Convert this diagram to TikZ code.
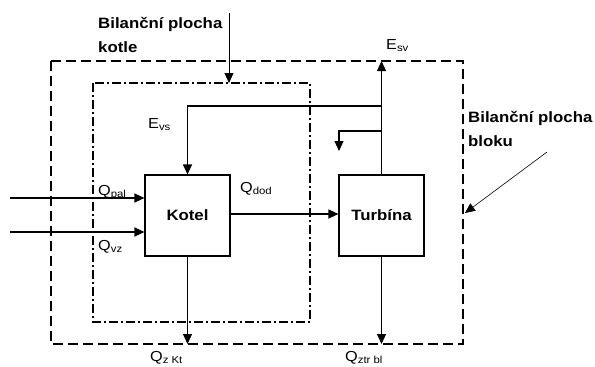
\documentclass[tikz,border=0pt]{standalone}
\usepackage{fontspec}
\setmainfont[FakeStretch=1.12]{Liberation Sans}
\usetikzlibrary{arrows.meta,positioning,calc}
\tikzset{
  blockBox/.style={draw, line width=1.1pt, minimum width=85pt, minimum height=81pt, font=\fontsize{15}{17}\selectfont\bfseries},
  flowArrow/.style={-{Triangle[length=10pt,width=9pt]}, line width=1.1pt},
  boundOuter/.style={line width=1.8pt, dash pattern=on 10pt off 5pt},
  boundInner/.style={line width=1.8pt, dash pattern=on 9pt off 3pt on 2pt off 3pt},
  qLabel/.style={font=\fontsize{14.5}{16}\selectfont, inner sep=0pt, anchor=base west},
  noteLabel/.style={font=\fontsize{15}{24}\selectfont\bfseries, inner sep=0pt, align=left, anchor=north west}
}
\begin{document}
\begin{tikzpicture}[x=1pt, y=-1pt]
  \useasboundingbox (0,0) rectangle (595,367);
  % boundaries
  \draw[boundOuter] (51,61) rectangle (463,344);
  \draw[boundInner] (93,83) rectangle (310,322);
  % blocks
  \node[blockBox] (kotel) at (187.5,215.5) {Kotel};
  \node[blockBox] (turb) at (381.5,215.5) {Turbína};
  % free ends
  \coordinate (palIn) at (10,198);
  \coordinate (vzIn) at (10,232);
  \coordinate (kotelOut) at (kotel.south |- 0,344);
  \coordinate (turbOut) at (turb.south |- 0,344);
  \coordinate (svOut) at (turb.north |- 0,61);
  \coordinate (vsTap) at (turb.north |- 0,106);
  \coordinate (vsTurn) at (kotel.north |- 0,106);
  \coordinate (brTap) at (turb.north |- 0,131);
  \coordinate (brTurn) at (339,131);
  \coordinate (brEnd) at (339,151);
  \coordinate (kotleTop) at (229,13);
  \coordinate (kotleEnd) at (229,83);
  \coordinate (blokuTop) at (547,152);
  \coordinate (blokuEnd) at (465,213);
  % flows
  \draw[flowArrow] (palIn) -- (kotel.west |- palIn);
  \draw[flowArrow] (vzIn) -- (kotel.west |- vzIn);
  \draw[flowArrow] (kotel.east |- 0,214) -- (turb.west |- 0,214);
  \draw[flowArrow] (kotel.south) -- (kotelOut);
  \draw[flowArrow] (turb.south) -- (turbOut);
  \draw[flowArrow] (turb.north) -- (svOut);
  \draw[flowArrow] (vsTap) -- (vsTurn) -- (kotel.north);
  \draw[flowArrow] (brTap) -- (brTurn) -- (brEnd);
  \draw[flowArrow, line width=0.8pt] (kotleTop) -- (kotleEnd);
  \draw[flowArrow, line width=0.6pt] (blokuTop) -- (blokuEnd);
  % labels
  \node[qLabel] (qpal) at (98,195) {Q\textsubscript{pal}};
  \node[qLabel] (qvz) at (98,250) {Q\textsubscript{vz}};
  \node[qLabel] (qdod) at (240,192) {Q\textsubscript{dod}};
  \node[qLabel] (qzkt) at (150,361) {Q\textsubscript{z Kt}};
  \node[qLabel] (qztr) at (345,361) {Q\textsubscript{ztr bl}};
  \node[qLabel] (esv) at (386,49) {E\textsubscript{sv}};
  \node[qLabel] (evs) at (148,128) {E\textsubscript{vs}};
  \node[noteLabel] (nkotle) at (98,17) {Bilanční plocha\\kotle};
  \node[noteLabel] (nbloku) at (468,111) {Bilanční plocha\\bloku};
\end{tikzpicture}
\end{document}
